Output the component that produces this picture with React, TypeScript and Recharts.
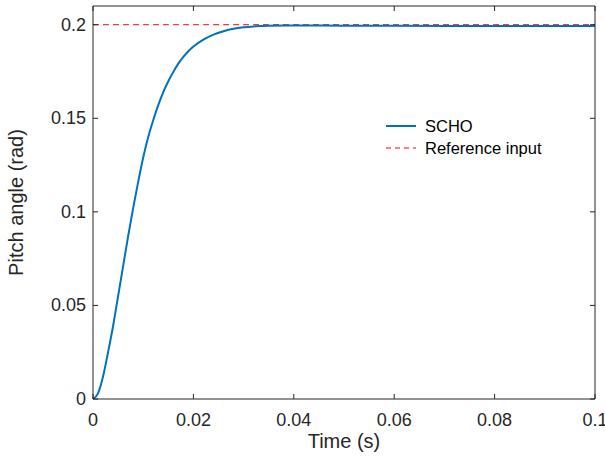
import React from "react";
import { LineChart, Line, XAxis, YAxis, Legend } from "recharts";

// step response
const timeS = [
  0, 0.001, 0.002, 0.003, 0.004, 0.005, 0.006, 0.007, 0.008, 0.009, 0.01,
  0.011, 0.012, 0.013, 0.014, 0.015, 0.016, 0.017, 0.018, 0.019, 0.02,
  0.022, 0.024, 0.026, 0.028, 0.03, 0.032, 0.035, 0.04, 0.05, 0.06, 0.08, 0.1,
];
const scho = [
  0, 0.003, 0.012, 0.025, 0.039, 0.055, 0.071, 0.087, 0.102, 0.116, 0.129,
  0.14, 0.149, 0.157, 0.164, 0.1698, 0.1748, 0.1792, 0.1828, 0.1858, 0.1883,
  0.192, 0.1947, 0.1965, 0.1978, 0.1986, 0.1991, 0.1995, 0.1996, 0.1995, 0.1994, 0.1993, 0.1993,
];
const referenceInput = 0.2;

const xTicks = [0, 0.02, 0.04, 0.06, 0.08, 0.1];
const yTicks = [0, 0.05, 0.1, 0.15, 0.2];

const data = timeS.map((t, i) => ({ t, scho: scho[i], ref: referenceInput }));

const AXIS = "#262626";
const FONT = "'Liberation Sans', Arial, Helvetica, sans-serif";

const fmt = (v: number) => String(v);

const BottomTick = ({ x, y, payload }: any) => (
  <g>
    <line x1={x} y1={y} x2={x} y2={y - 5} stroke={AXIS} />
    <text x={x} y={y + 27} textAnchor="middle" fontSize={18} fill={AXIS} fontFamily={FONT}>
      {fmt(payload.value)}
    </text>
  </g>
);

const TopTick = ({ x, y }: any) => <line x1={x} y1={y} x2={x} y2={y + 5} stroke={AXIS} />;

const LeftTick = ({ x, y, payload }: any) => (
  <g>
    <line x1={x} y1={y} x2={x + 5} y2={y} stroke={AXIS} />
    <text x={x - 7} y={y + 6} textAnchor="end" fontSize={18} fill={AXIS} fontFamily={FONT}>
      {fmt(payload.value)}
    </text>
  </g>
);

const RightTick = ({ x, y }: any) => <line x1={x} y1={y} x2={x - 5} y2={y} stroke={AXIS} />;

const YTitle = ({ viewBox }: any) => {
  const cx = viewBox.x + 23;
  const cy = viewBox.y + viewBox.height / 2;
  return (
    <text
      x={cx}
      y={cy}
      transform={`rotate(-90 ${cx} ${cy})`}
      textAnchor="middle"
      fontSize={20}
      fill={AXIS}
      fontFamily={FONT}
    >
      Pitch angle (rad)
    </text>
  );
};

const LegendBox = () => (
  <div style={{ fontFamily: FONT, fontSize: 16.5, color: "#000", lineHeight: "22px", textAlign: "left" }}>
    <div style={{ display: "flex", alignItems: "center" }}>
      <svg width={30} height={4} style={{ marginRight: 9 }}>
        <line x1={0} y1={2} x2={30} y2={2} stroke="#0072BD" strokeWidth={2} />
      </svg>
      SCHO
    </div>
    <div style={{ display: "flex", alignItems: "center" }}>
      <svg width={30} height={4} style={{ marginRight: 9 }}>
        <line x1={0} y1={2} x2={30} y2={2} stroke="#FF0000" strokeWidth={1} strokeDasharray="5 4" />
      </svg>
      Reference input
    </div>
  </div>
);

export default function App() {
  return (
    <div style={{ width: 605, height: 459, background: "#fff" }}>
      <style>{`body{margin:0}`}</style>
      <LineChart width={605} height={459} data={data} margin={{ top: 5, right: 9, left: 0, bottom: 0 }}>
        <XAxis
          dataKey="t"
          type="number"
          domain={[0, 0.1]}
          ticks={xTicks}
          height={60}
          tickSize={0}
          tickMargin={0}
          tickLine={false}
          tick={<BottomTick />}
          stroke={AXIS}
          label={{ value: "Time (s)", position: "insideBottom", offset: 11, fontSize: 20, fill: AXIS, fontFamily: FONT }}
        />
        <XAxis
          xAxisId="top"
          orientation="top"
          dataKey="t"
          type="number"
          domain={[0, 0.1]}
          ticks={xTicks}
          height={1}
          tickSize={0}
          tickMargin={0}
          tickLine={false}
          tick={<TopTick />}
          stroke={AXIS}
        />
        <YAxis
          type="number"
          domain={[0, 0.21]}
          ticks={yTicks}
          width={93}
          tickSize={0}
          tickMargin={0}
          tickLine={false}
          tick={<LeftTick />}
          stroke={AXIS}
          label={{ content: <YTitle /> }}
        />
        <YAxis
          yAxisId="right"
          orientation="right"
          type="number"
          domain={[0, 0.21]}
          ticks={yTicks}
          width={1}
          tickSize={0}
          tickMargin={0}
          tickLine={false}
          tick={<RightTick />}
          stroke={AXIS}
        />
        <Legend
          content={<LegendBox />}
          layout="horizontal"
          verticalAlign="middle"
          align="center"
          wrapperStyle={{ left: 386, top: 115, width: 200 }}
        />
        <Line
          dataKey="ref"
          xAxisId="top"
          yAxisId="right"
          stroke="#FF0000"
          strokeWidth={1}
          strokeDasharray="6 4"
          dot={false}
          isAnimationActive={false}
        />
        <Line dataKey="scho" stroke="#0072BD" strokeWidth={2} dot={false} type="monotone" isAnimationActive={false} />
      </LineChart>
    </div>
  );
}
